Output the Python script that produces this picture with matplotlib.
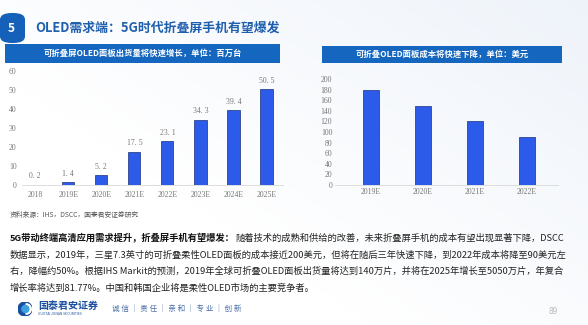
import matplotlib
matplotlib.use("Agg")
import matplotlib.pyplot as plt
from matplotlib.patches import Rectangle, FancyBboxPatch, Circle, Wedge
import numpy as np

# ---------------- data ----------------
ship_cats = ["2018", "2019E", "2020E", "2021E", "2022E", "2023E", "2024E", "2025E"]
ship_vals = [0.2, 1.4, 5.2, 17.5, 23.1, 34.3, 39.4, 50.5]
ship_ticks = [0, 10, 20, 30, 40, 50, 60]

cost_cats = ["2019E", "2020E", "2021E", "2022E"]
cost_vals = [180, 150, 120, 90]
cost_ticks = [0, 20, 40, 60, 80, 100, 120, 140, 160, 180, 200]

header_num = "5"
header_title = "OLED需求端：5G时代折叠屏手机有望爆发"
left_banner = "可折叠屏OLED面板出货量将快速增长，单位：百万台"
right_banner = "可折叠OLED面板成本将快速下降，单位：美元"
source_text = "资料来源：IHS，DSCC，国泰君安证券研究"
para_bold = "5G带动终端高清应用需求提升，折叠屏手机有望爆发："
para_lines = [
    "随着技术的成熟和供给的改善，未来折叠屏手机的成本有望出现显著下降，DSCC",
    "数据显示，2019年，三星7.3英寸的可折叠柔性OLED面板的成本接近200美元，但将在随后三年快速下降，到2022年成本将降至90美元左",
    "右，降幅约50%。根据IHS Markit的预测，2019年全球可折叠OLED面板出货量将达到140万片，并将在2025年增长至5050万片，年复合",
    "增长率将达到81.77%。中国和韩国企业将是柔性OLED市场的主要竞争者。",
]
logo_name = "国泰君安证券"
logo_en = "GUOTAI JUNAN SECURITIES"
slogan = "诚 信 │ 责 任 │ 亲 和 │ 专 业 │ 创 新"
page_no = "89"

plt.rcParams['font.family'] = ['Noto Sans CJK SC', 'DejaVu Sans']

W, H = 588, 325
fig = plt.figure(figsize=(W / 100, H / 100), dpi=100)

def fx(x):
    return x / W

def fy(y):
    return 1 - y / H

# background gradient
bg = fig.add_axes([0, 0, 1, 1], zorder=-10)
gx = np.linspace(0, 1, 200)
gy = np.linspace(0, 1, 120)
GX, GY = np.meshgrid(gx, gy)
g = np.clip(0.55 * GX + 0.45 * (1 - GY) - 0.35, 0, 1)
img = np.zeros((120, 200, 3))
base = np.array([1.0, 1.0, 1.0])
tint = np.array([0.90, 0.93, 0.97])
for c in range(3):
    img[:, :, c] = base[c] * (1 - g) + tint[c] * g
bg.imshow(img, aspect='auto', extent=[0, 1, 0, 1], origin='upper')
bg.set_xlim(0, 1)
bg.set_ylim(0, 1)
bg.axis('off')

BLUE_BANNER = "#1466BE"
BAR = "#2C5BEA"
BAR_EDGE = "#1B2F7A"
TICK_COL = "#777777"

# header box with number
hdr = FancyBboxPatch((fx(0), fy(43)), fx(25), fy(13) - fy(43),
                     boxstyle="round,pad=0,rounding_size=0.02",
                     transform=fig.transFigure, facecolor="#1560B8",
                     edgecolor="none")
fig.patches.append(hdr)
fig.text(fx(11), fy(28), header_num, color="white", fontsize=8.5,
         fontweight="bold", ha="center", va="center")
fig.text(fx(35), fy(28), header_title, color="#1F5FAE", fontsize=9.3,
         fontweight="bold", ha="left", va="center")

# banners
for (x0, x1, y0, y1, txt) in [(5, 280, 44, 63, left_banner),
                              (322, 562, 46, 63, right_banner)]:
    r = Rectangle((fx(x0), fy(y1)), fx(x1) - fx(x0), fy(y0) - fy(y1),
                  transform=fig.transFigure, facecolor=BLUE_BANNER,
                  edgecolor="none")
    fig.patches.append(r)
    fig.text(fx((x0 + x1) / 2), fy((y0 + y1) / 2), txt, color="white",
             fontsize=6.0, fontweight="bold", ha="center", va="center")

serif = ['Liberation Serif', 'DejaVu Serif']

# left chart
axL = fig.add_axes([fx(22), fy(185), fx(283) - fx(22), fy(70.7) - fy(185)])
axL.patch.set_alpha(0)
xL = np.arange(len(ship_cats))
axL.bar(xL, ship_vals, width=0.37, color=BAR, edgecolor=BAR_EDGE, linewidth=0.5)
for xi, v in zip(xL, ship_vals):
    s = f"{v:.1f}".replace(".", ". ")
    axL.text(xi, v + 2.2, s, ha="center", va="bottom", fontsize=5.6,
             color=TICK_COL, family=serif, clip_on=False)
axL.set_xlim(-0.4, 7.5)
axL.set_ylim(0, 60)
axL.set_yticks(ship_ticks)
axL.set_xticks(xL)
axL.set_xticklabels(ship_cats)
for sp in ["top", "right", "left"]:
    axL.spines[sp].set_visible(False)
axL.spines["bottom"].set_color("#D8D8D8")
axL.spines["bottom"].set_linewidth(0.6)
axL.tick_params(length=0, labelsize=5.6, colors=TICK_COL, pad=4)
for lab in axL.get_xticklabels() + axL.get_yticklabels():
    lab.set_family(serif)

# right chart
axR = fig.add_axes([fx(335), fy(185), fx(558) - fx(335), fy(79) - fy(185)])
axR.patch.set_alpha(0)
xR = np.arange(len(cost_cats))
axR.bar(xR, cost_vals, width=0.31, color=BAR, edgecolor=BAR_EDGE, linewidth=0.5)
axR.set_xlim(-0.69, 3.6)
axR.set_ylim(0, 200)
axR.set_yticks(cost_ticks)
axR.set_xticks(xR)
axR.set_xticklabels(cost_cats)
for sp in ["top", "right", "left"]:
    axR.spines[sp].set_visible(False)
axR.spines["bottom"].set_color("#D8D8D8")
axR.spines["bottom"].set_linewidth(0.6)
axR.tick_params(length=0, labelsize=5.6, colors=TICK_COL, pad=2)
for lab in axR.get_xticklabels() + axR.get_yticklabels():
    lab.set_family(serif)

# source
fig.text(fx(10), fy(215), source_text, fontsize=4.9, color="#555555",
         ha="left", va="center")

# paragraph
fs = 6.7
ys = [238, 255, 271, 288]
fig.canvas.draw()
renderer = fig.canvas.get_renderer()
tb = fig.text(fx(10), fy(ys[0]), para_bold, fontsize=fs, fontweight="heavy",
              color="#111111", ha="left", va="center")
bb = tb.get_window_extent(renderer=renderer)
fig.text(bb.x1 / fig.dpi / fig.get_figwidth(), fy(ys[0]), para_lines[0],
         fontsize=fs, color="#222222", ha="left", va="center")
for line, y in zip(para_lines[1:], ys[1:]):
    fig.text(fx(10), fy(y), line, fontsize=fs, color="#222222",
             ha="left", va="center")

# footer logo
lax = fig.add_axes([fx(17), fy(316), fx(16), fy(302) - fy(316)])
lax.set_xlim(-1, 1)
lax.set_ylim(-1, 1)
lax.set_aspect('equal')
lax.axis('off')
lax.add_patch(Circle((0, 0), 1, color="#1A4FA0"))
lax.add_patch(Wedge((0.15, 0), 0.75, -90, 90, color="white"))
lax.add_patch(Circle((0.05, 0), 0.5, color="#3AA0E0"))
fig.text(fx(38), fy(306), logo_name, fontsize=7.2, fontweight="bold",
         color="#1A4FA0", ha="left", va="center")
fig.text(fx(38), fy(314), logo_en, fontsize=2.4, color="#1A4FA0",
         ha="left", va="center")
fig.text(fx(112), fy(309), slogan, fontsize=5.5, color="#4A6FA8",
         ha="left", va="center")
fig.text(fx(553), fy(312), page_no, fontsize=6, color="#BBBBBB",
         ha="center", va="center")

fig.savefig("out.png", dpi=100)
